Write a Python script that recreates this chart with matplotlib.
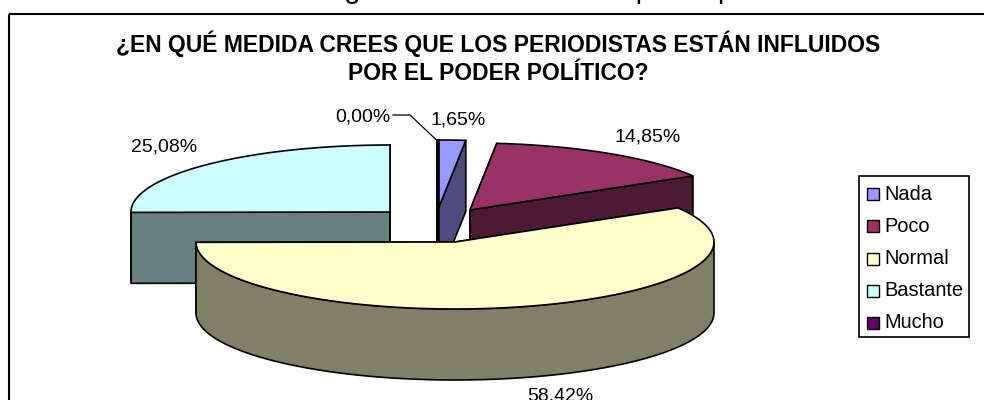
# exploded 3D pie drawn by hand, pixel coordinates on one full-figure axes
import numpy as np
import matplotlib.pyplot as plt
from matplotlib.patches import Polygon, Rectangle

plt.rcParams['font.family'] = ['Liberation Sans', 'DejaVu Sans']

categories = ['Nada', 'Poco', 'Normal', 'Bastante', 'Mucho']
values = [1.65, 14.85, 58.42, 25.08, 0.00]

colors = ['#9999FF', '#993366', '#FFFFCC', '#CCFFFF', '#660066']
side_colors = ['#4D4D80', '#4D1A33', '#808066', '#668080', '#330033']

# slice apex in pixels, each slice is pulled out on its own
centers = [(439, 207), (470, 210), (455, 242), (390, 212), (436.5, 207)]
label_pos = [(458, 120), (648, 137), (560, 396), (164, 147), (363, 117)]

RX = 259
RY = 67
DEPTH = 71
LW = 1.2

fig = plt.figure(figsize=(9.84, 4), dpi=100)
ax = fig.add_axes([0, 0, 1, 1])
ax.set_xlim(0, 984)
ax.set_ylim(400, 0)
ax.axis('off')


def px(size):
    return size * 0.72


def arc(center, a0, a1):
    # angles in degrees, clockwise from 12 o'clock
    t = np.radians(np.linspace(a0, a1, 80))
    return np.column_stack((center[0] + RX * np.sin(t), center[1] - RY * np.cos(t)))


def shape(pts, color, z):
    ax.add_patch(Polygon(pts, closed=True, fc=color, ec='black', lw=LW, zorder=z, joinstyle='round'))


# slice angles from the values
ends = np.cumsum(values) * 3.6
starts = ends - np.array(values) * 3.6
# the zero slice sits at the very top of the pie
starts[4] = 0
ends[4] = 0

# back slices first, the big one covers the rest
order = [3, 4, 0, 1, 2]
for z, i in enumerate(order):
    c = np.array(centers[i], float)
    down = np.array([0, DEPTH])
    rim = arc(c, starts[i], ends[i])
    base = 10 * (z + 1)
    # straight cut faces
    for p in (rim[0], rim[-1]):
        shape([c, p, p + down, c + down], side_colors[i], base)
    # rim, only the part that faces front
    a0 = max(starts[i], 90)
    a1 = min(ends[i], 270)
    if a1 > a0:
        front = arc(c, a0, a1)
        shape(np.vstack((front, (front + down)[::-1])), side_colors[i], base + 1)
    shape(np.vstack(([c], rim)), colors[i], base + 2)

# outer frame runs off the right and bottom
ax.add_patch(Rectangle((9, 14), 1000, 420, fc='none', ec='black', lw=1.5, zorder=100, clip_on=True))

# caption above the frame, only its lower edge is on the canvas
ax.text(320, -2, 'Figura 11: Influencia del poder político', fontsize=px(29), ha='left', va='baseline', color='black')

ax.text(498.5, 43.5, '¿EN QUÉ MEDIDA CREES QUE LOS PERIODISTAS ESTÁN INFLUIDOS', fontsize=px(22.9),
        fontweight='bold', ha='center', va='center', zorder=110)
ax.text(498, 73.5, 'POR EL PODER POLÍTICO?', fontsize=px(22.9),
        fontweight='bold', ha='center', va='center', zorder=110)

# value labels
for v, (x, y) in zip(values, label_pos):
    ax.text(x, y, f'{v:.2f}%'.replace('.', ','), fontsize=px(19.5), ha='center', va='center', zorder=110)

# leader line of the empty slice
ax.plot([393, 410, 436.5], [115, 115, 140], color='black', lw=0.9, zorder=90)

# legend
ax.add_patch(Rectangle((859, 176), 110, 161, fc='white', ec='black', lw=1.2, zorder=120))
for i, name in enumerate(categories):
    y = 194 + i * 32.25
    ax.add_patch(Rectangle((867, y - 6), 12, 12, fc=colors[i], ec='black', lw=1.0, zorder=121))
    ax.text(884, y, name, fontsize=px(20), ha='left', va='center', zorder=121)

fig.savefig('out.png', dpi=100)
